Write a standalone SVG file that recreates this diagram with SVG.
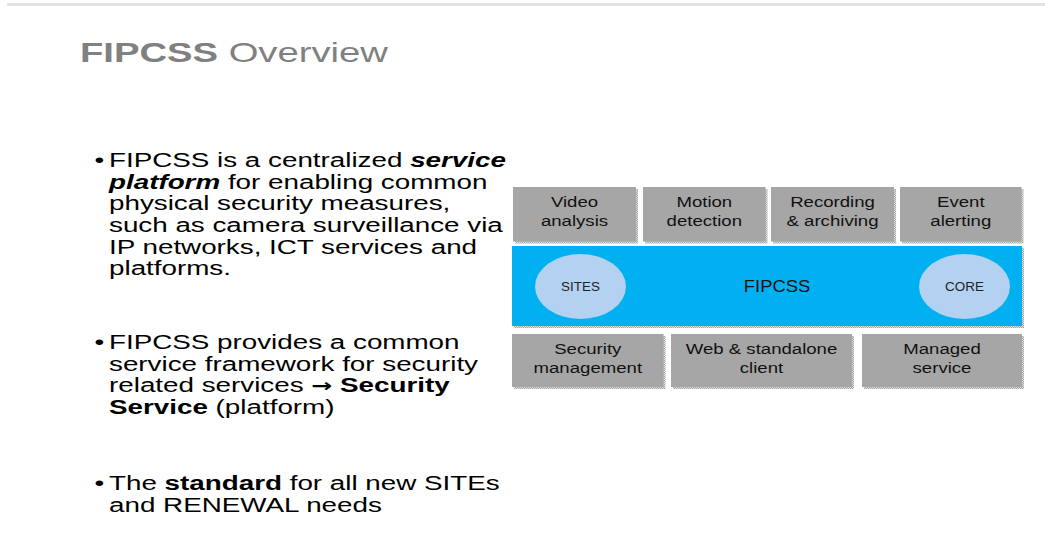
<svg xmlns="http://www.w3.org/2000/svg" width="1045" height="544" viewBox="0 0 1045 544">
  <style>
    .title { font-family: "Liberation Sans", Arial, sans-serif; font-size: 27.5px; fill: #808080; }
    .body { font-family: "Liberation Sans", Arial, sans-serif; font-size: 20px; fill: #000000; }
    .arrow { font-family: "DejaVu Sans", sans-serif; font-weight: bold; font-size: 18px; }
    .box { fill: #a6a6a6; }
    .boxtext { font-family: "Liberation Sans", Arial, sans-serif; font-size: 15.5px; fill: #111111; text-anchor: middle; }
    .band { fill: #00b0f0; }
    .oval { fill: #b3d1f0; }
    .small { font-family: "Liberation Sans", Arial, sans-serif; font-size: 12px; fill: #222222; text-anchor: middle; }
    .bandtext { font-family: "Liberation Sans", Arial, sans-serif; font-size: 16px; fill: #111111; text-anchor: middle; }
  </style>
  <defs>
    <!-- fine checker used for the thin drop shadows -->
    <pattern id="shade" width="2" height="2" patternUnits="userSpaceOnUse">
      <rect width="2" height="2" fill="#e2e2e2"/>
      <rect width="1" height="1" fill="#a2a2a2"/>
      <rect x="1" y="1" width="1" height="1" fill="#a2a2a2"/>
    </pattern>
  </defs>

  <rect width="1045" height="544" fill="#ffffff"/>
  <!-- header rule -->
  <rect x="7" y="3" width="1038" height="3" fill="#e4e4e4"/>

  <!-- title -->
  <g transform="translate(80 0) scale(1.39 1)">
    <text class="title" x="0" y="62"><tspan font-weight="bold">FIPCSS</tspan> Overview</text>
  </g>

  <!-- bullet list -->
  <g id="bullets" transform="translate(109 0) scale(1.39 1)">
    <text class="body" x="-10.5" y="167">•</text>
    <text class="body" x="0" y="167">FIPCSS is a centralized <tspan font-weight="bold" font-style="italic">service</tspan></text>
    <text class="body" x="0" y="188.7"><tspan font-weight="bold" font-style="italic">platform</tspan> for enabling common</text>
    <text class="body" x="0" y="210.4">physical security measures,</text>
    <text class="body" x="0" y="232.1">such as camera surveillance via</text>
    <text class="body" x="0" y="253.8">IP networks, ICT services and</text>
    <text class="body" x="0" y="275.5">platforms.</text>

    <text class="body" x="-10.5" y="349">•</text>
    <text class="body" x="0" y="349">FIPCSS provides a common</text>
    <text class="body" x="0" y="370.7">service framework for security</text>
    <text class="body" x="0" y="392.4">related services <tspan class="arrow">→</tspan> <tspan font-weight="bold">Security</tspan></text>
    <text class="body" x="0" y="414.1"><tspan font-weight="bold">Service</tspan> (platform)</text>

    <text class="body" x="-10.5" y="490">•</text>
    <text class="body" x="0" y="490">The <tspan font-weight="bold">standard</tspan> for all new SITEs</text>
    <text class="body" x="0" y="511.7">and RENEWAL needs</text>
  </g>

  <!-- top service row -->
  <g id="video-analysis">
    <rect x="515" y="189" width="123" height="54.5" fill="url(#shade)"/>
    <rect class="box" x="513" y="187" width="123" height="54.5"/>
    <g transform="translate(574.5 0) scale(1.2 1)">
      <text class="boxtext" x="0" y="207">Video</text>
      <text class="boxtext" x="0" y="226.5">analysis</text>
    </g>
  </g>
  <g id="motion-detection">
    <rect x="645" y="189" width="122.5" height="54.5" fill="url(#shade)"/>
    <rect class="box" x="643" y="187" width="122.5" height="54.5"/>
    <g transform="translate(704.3 0) scale(1.2 1)">
      <text class="boxtext" x="0" y="207">Motion</text>
      <text class="boxtext" x="0" y="226.5">detection</text>
    </g>
  </g>
  <g id="recording-archiving">
    <rect x="773" y="189" width="123" height="54.5" fill="url(#shade)"/>
    <rect class="box" x="771" y="187" width="123" height="54.5"/>
    <g transform="translate(832.5 0) scale(1.2 1)">
      <text class="boxtext" x="0" y="207">Recording</text>
      <text class="boxtext" x="0" y="226.5">&amp; archiving</text>
    </g>
  </g>
  <g id="event-alerting">
    <rect x="902" y="189" width="121.5" height="54.5" fill="url(#shade)"/>
    <rect class="box" x="900" y="187" width="121.5" height="54.5"/>
    <g transform="translate(960.8 0) scale(1.2 1)">
      <text class="boxtext" x="0" y="207">Event</text>
      <text class="boxtext" x="0" y="226.5">alerting</text>
    </g>
  </g>

  <!-- platform band -->
  <g id="fipcss-band">
    <rect x="514" y="248" width="510" height="80" fill="url(#shade)"/>
    <rect class="band" x="512" y="246" width="510" height="80"/>
    <g transform="translate(777 0) scale(1.15 1)">
      <text class="bandtext" x="0" y="292">FIPCSS</text>
    </g>
  </g>
  <g id="sites">
    <ellipse class="oval" cx="580.5" cy="286.5" rx="45.5" ry="32.5"/>
    <g transform="translate(580.5 0) scale(1.12 1)">
      <text class="small" x="0" y="291">SITES</text>
    </g>
  </g>
  <g id="core">
    <ellipse class="oval" cx="964.5" cy="286.5" rx="45.5" ry="32.5"/>
    <g transform="translate(964.5 0) scale(1.12 1)">
      <text class="small" x="0" y="291">CORE</text>
    </g>
  </g>

  <!-- bottom service row -->
  <g id="security-management">
    <rect x="514" y="336" width="151.5" height="53" fill="url(#shade)"/>
    <rect class="box" x="512" y="334" width="151.5" height="53"/>
    <g transform="translate(587.8 0) scale(1.2 1)">
      <text class="boxtext" x="0" y="354">Security</text>
      <text class="boxtext" x="0" y="373">management</text>
    </g>
  </g>
  <g id="web-client">
    <rect x="673" y="336" width="181" height="53" fill="url(#shade)"/>
    <rect class="box" x="671" y="334" width="181" height="53"/>
    <g transform="translate(761.5 0) scale(1.2 1)">
      <text class="boxtext" x="0" y="354">Web &amp; standalone</text>
      <text class="boxtext" x="0" y="373">client</text>
    </g>
  </g>
  <g id="managed-service">
    <rect x="864" y="336" width="160" height="53" fill="url(#shade)"/>
    <rect class="box" x="862" y="334" width="160" height="53"/>
    <g transform="translate(942 0) scale(1.2 1)">
      <text class="boxtext" x="0" y="354">Managed</text>
      <text class="boxtext" x="0" y="373">service</text>
    </g>
  </g>

  <!-- the layers touch directly; no connector lines are drawn -->
  <g id="connectors"/>
</svg>
